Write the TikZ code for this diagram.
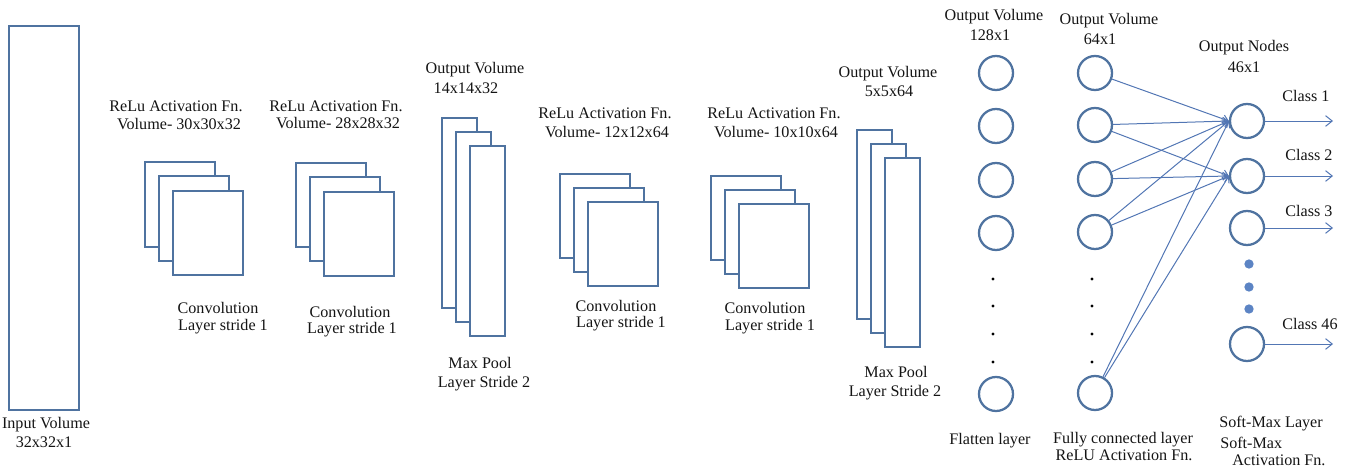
\documentclass[tikz,border=0pt]{standalone}
\usepackage{fontspec}
\setmainfont{Liberation Serif}
\usetikzlibrary{arrows.meta}
\definecolor{edge}{RGB}{79,115,160}
\definecolor{wire}{RGB}{82,118,180}
\definecolor{dotblue}{RGB}{92,132,196}
\definecolor{txt}{RGB}{20,20,20}
\begin{document}
\begin{tikzpicture}[x=0.75pt,y=-0.75pt,
  box/.style={draw=edge,line width=1.75pt,fill=white},
  neuron/.style={circle,draw=edge,line width=1.7pt,minimum size=25.5pt,inner sep=0pt},
  lbl/.style={inner sep=0pt,text height=0.7em,text depth=0pt,font=\fontsize{12.1}{13}\selectfont,text=txt},
  wireline/.style={draw=wire,line width=0.75pt,-{Straight Barb[length=4pt,width=6pt]}},
  bdot/.style={circle,fill=black,inner sep=0pt,minimum size=2.4pt},
  bluedot/.style={circle,fill=dotblue,inner sep=0pt,minimum size=7pt}
]
\useasboundingbox (0,0) rectangle (1360,471);

% input volume
\draw[box] (9,26) rectangle (79,410);
\node[lbl] (in1) at (46,424) {Input Volume};
\node[lbl] (in2) at (44,443) {32x32x1};

% conv 1
\draw[box] (145,162) rectangle (215,247);
\draw[box] (159,176) rectangle (229,261);
\draw[box] (173,191) rectangle (243,275);
\node[lbl] (c1a) at (176,107) {ReLu Activation Fn.};
\node[lbl] (c1b) at (179,125) {Volume- 30x30x32};
\node[lbl] (c1c) at (218,309) {Convolution};
\node[lbl] (c1d) at (223,326) {Layer stride 1};

% conv 2
\draw[box] (296,163) rectangle (366,247);
\draw[box] (310,177) rectangle (380,261);
\draw[box] (324,192) rectangle (394,276);
\node[lbl] (c2a) at (336,107) {ReLu Activation Fn.};
\node[lbl] (c2b) at (338,124) {Volume- 28x28x32};
\node[lbl] (c2c) at (350,313) {Convolution};
\node[lbl] (c2d) at (352,329) {Layer stride 1};

% max pool 1
\draw[box] (442,118) rectangle (477,308);
\draw[box] (456,132) rectangle (491,322);
\draw[box] (470,146) rectangle (505,336);
\node[lbl] (p1a) at (475,69) {Output Volume};
\node[lbl] (p1b) at (466,89) {14x14x32};
\node[lbl] (p1c) at (480,364) {Max Pool};
\node[lbl] (p1d) at (484,383) {Layer Stride 2};

% conv 3
\draw[box] (560,174) rectangle (630,258);
\draw[box] (574,188) rectangle (644,272);
\draw[box] (588,202) rectangle (658,286);
\node[lbl] (c3a) at (605,114) {ReLu Activation Fn.};
\node[lbl] (c3b) at (607,133) {Volume- 12x12x64};
\node[lbl] (c3c) at (616,307) {Convolution};
\node[lbl] (c3d) at (621,323) {Layer stride 1};

% conv 4
\draw[box] (711,176) rectangle (781,260);
\draw[box] (725,190) rectangle (795,274);
\draw[box] (739,204) rectangle (809,288);
\node[lbl] (c4a) at (774,114) {ReLu Activation Fn.};
\node[lbl] (c4b) at (776,133) {Volume- 10x10x64};
\node[lbl] (c4c) at (765,309) {Convolution};
\node[lbl] (c4d) at (770,326) {Layer stride 1};

% max pool 2
\draw[box] (857,130) rectangle (892,319);
\draw[box] (871,144) rectangle (906,333);
\draw[box] (885,158) rectangle (920,347);
\node[lbl] (p2a) at (888,73) {Output Volume};
\node[lbl] (p2b) at (889,92) {5x5x64};
\node[lbl] (p2c) at (896,373) {Max Pool};
\node[lbl] (p2d) at (895,392) {Layer Stride 2};

% flatten layer
\foreach \i/\y in {1/73,2/126,3/180,4/233,5/394}
  \node[neuron] (a\i) at (996,\y) {};
\foreach \i/\y in {1/279,2/306,3/334,4/362}
  \node[bdot] (ad\i) at (993,\y) {};
\node[lbl] (fa) at (994,16) {Output Volume};
\node[lbl] (fb) at (990,36) {128x1};
\node[lbl] (fc) at (990,440) {Flatten layer};

% fully connected layer
\foreach \i/\y in {1/73,2/125,3/179,4/232,5/393}
  \node[neuron] (b\i) at (1095,\y) {};
\foreach \i/\y in {1/279,2/306,3/334,4/362}
  \node[bdot] (bd\i) at (1092,\y) {};
\node[lbl] (ga) at (1109,20) {Output Volume};
\node[lbl] (gb) at (1100,40) {64x1};
\node[lbl] (gc) at (1123,439) {Fully connected layer};
\node[lbl] (gd) at (1124,456) {ReLU Activation Fn.};

% output layer
\foreach \i/\y in {1/121,2/176,3/228,4/344}
  \node[neuron] (o\i) at (1247,\y) {};
\foreach \i/\y in {1/264,2/287,3/309}
  \node[bluedot] (od\i) at (1249,\y) {};
\foreach \i/\y in {1/121,2/176,3/228,4/344}
  \coordinate (e\i) at (1333,\y);
\node[lbl] (ha) at (1244,47) {Output Nodes};
\node[lbl] (hb) at (1244,68) {46x1};
\node[lbl] (k1) at (1306,97) {Class 1};
\node[lbl] (k2) at (1309,156) {Class 2};
\node[lbl] (k3) at (1309,212) {Class 3};
\node[lbl] (k4) at (1310,325) {Class 46};
\node[lbl,anchor=west] (s1) at (1219,423) {Soft-Max Layer};
\node[lbl,anchor=west] (s2) at (1220,444) {Soft-Max};
\node[lbl,anchor=west] (s3) at (1232,461) {Activation Fn.};

% connections
\draw[wireline] (b1) -- (o1.west);
\draw[wireline] (b2) -- (o1.west);
\draw[wireline] (b2) -- (o2.west);
\draw[wireline] (b3) -- (o1.west);
\draw[wireline] (b3) -- (o2.west);
\draw[wireline] (b4) -- (o1.west);
\draw[wireline] (b4) -- (o2.west);
\draw[wireline] (b5) -- (o1.west);
\draw[wireline] (b5) -- (o2.west);
\foreach \i in {1,2,3,4}
  \draw[wireline,-{Straight Barb[length=5pt,width=8pt]}] (o\i) -- (e\i);
\end{tikzpicture}
\end{document}
